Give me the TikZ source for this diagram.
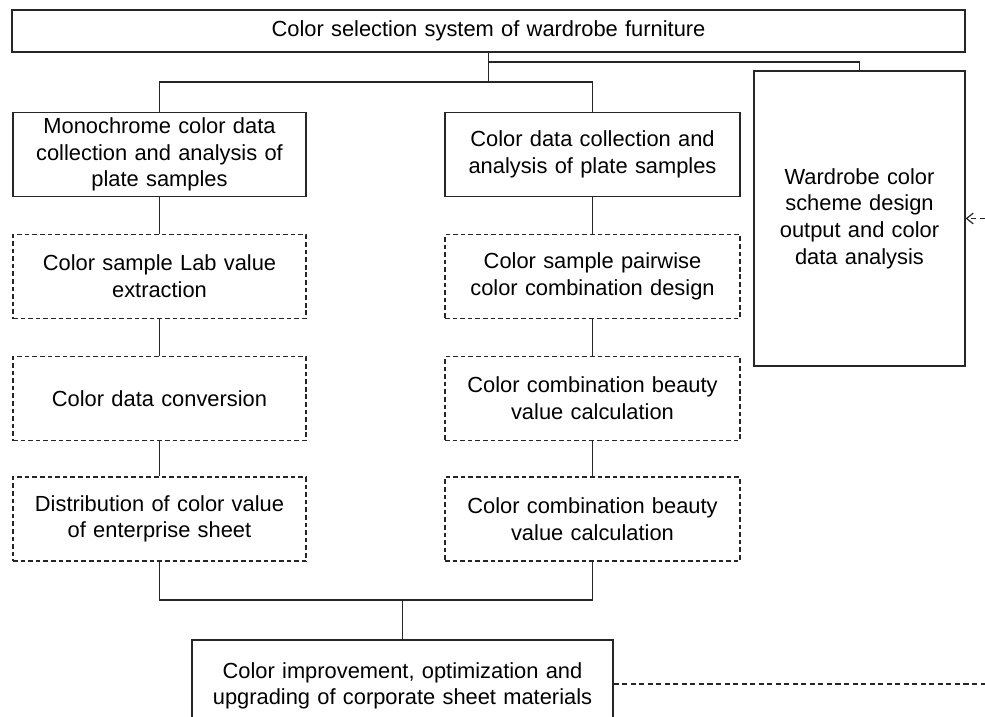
\documentclass[tikz,border=0pt]{standalone}
\usepackage{fontspec}
\setmainfont{Liberation Sans}
\usetikzlibrary{arrows.meta}
\begin{document}
\begin{tikzpicture}[x=0.75pt,y=-0.75pt,
  font=\fontsize{16.4}{20}\selectfont,
  box/.style={draw=black!85,line width=0.9pt,align=center,inner sep=2pt,
    minimum height=63pt},
  dbox/.style={box,dash pattern=on 3.5pt off 2.2pt},
  link/.style={draw=black!85,line width=0.9pt},
  dlink/.style={link,dash pattern=on 3.8pt off 2.6pt}]
\useasboundingbox (0,0) rectangle (985,717);
% title bar
\node[box,line width=2pt,minimum width=714.75pt,minimum height=31.5pt,
  text width=700pt] (top) at (488.5,31) {Color selection system of wardrobe furniture};
% left column
\node[box,minimum width=219.75pt,text width=212pt] (L1) at (159.5,154.5)
  {Monochrome color data\\collection and analysis of\\plate samples};
\node[dbox,minimum width=219.75pt,text width=212pt] (L2) at (159.5,276.5)
  {Color sample Lab value\\extraction};
\node[dbox,minimum width=219.75pt,text width=212pt] (L3) at (159.5,398.5)
  {Color data conversion};
\node[dbox,minimum width=219.75pt,text width=212pt] (L4) at (159.5,519)
  {Distribution of color value\\of enterprise sheet};
% middle column
\node[box,minimum width=221.25pt,text width=214pt] (M1) at (592.5,154.5)
  {Color data collection and\\analysis of plate samples};
\node[dbox,minimum width=221.25pt,text width=214pt] (M2) at (592.5,276.5)
  {Color sample pairwise\\color combination design};
\node[dbox,minimum width=221.25pt,text width=214pt] (M3) at (592.5,398.5)
  {Color combination beauty\\value calculation};
\node[dbox,minimum width=221.25pt,text width=214pt] (M4) at (592.5,519)
  {Color combination beauty\\value calculation};
% right column
\node[box,minimum width=158.25pt,minimum height=221.25pt,text width=150pt] (R) at (859.5,218.5)
  {Wardrobe color\\scheme design\\output and color\\data analysis};
% bottom result
\node[box,minimum width=315.75pt,minimum height=69pt,text width=308pt] (B) at (402.5,686)
  {Color improvement, optimization and\\upgrading of corporate sheet materials};
% junction points
\coordinate (jr) at (488.5,62);
\coordinate (jm) at (488.5,82);
\coordinate (jb) at (402.5,600);
\coordinate (inR) at (985,218.5);
\coordinate (outB) at (985,684);
% connectors
\draw[link] (top.south) -- (jm);
\draw[link] (jr) -| (R.north);
\draw[link] (L1.north) |- (jm) -| (M1.north);
\draw[link] (L1) -- (L2);
\draw[link] (L2) -- (L3);
\draw[link] (L3) -- (L4);
\draw[link] (M1) -- (M2);
\draw[link] (M2) -- (M3);
\draw[link] (M3) -- (M4);
\draw[link] (L4.south) |- (jb) -| (M4.south);
\draw[link] (jb) -- (B.north);
\draw[dlink] (B.east |- outB) -- (outB);
\draw[dlink,-{Straight Barb[length=5pt,width=8pt]}] (inR) -- (R.east);
\end{tikzpicture}
\end{document}
